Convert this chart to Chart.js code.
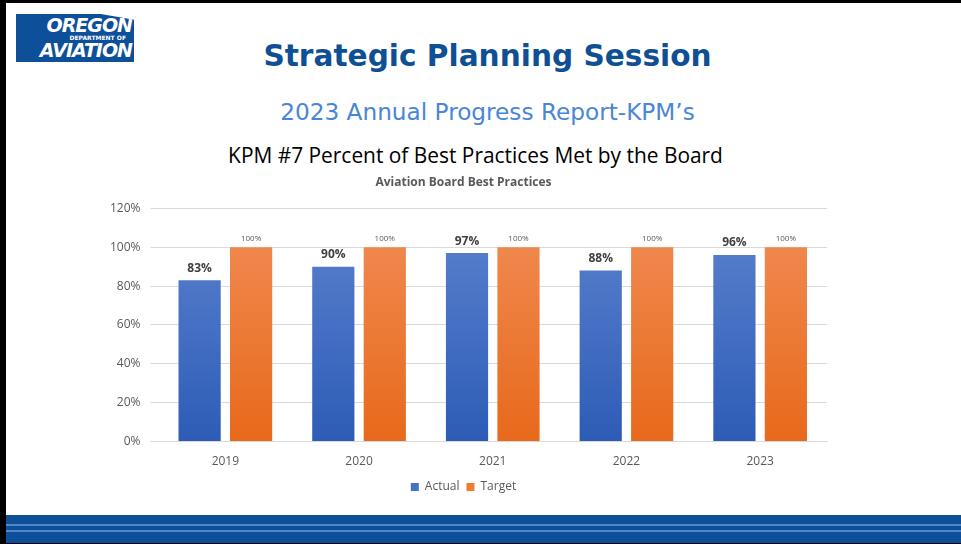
<!DOCTYPE html>
<html>
<head>
<meta charset="utf-8">
<script src="https://cdn.jsdelivr.net/npm/chart.js@4"></script>
<style>
	html, body { margin: 0; padding: 0; }
	body { width: 961px; height: 544px; position: relative; overflow: hidden; background: #fff; font-family: "Open Sans", sans-serif; }
	#frame { position: absolute; left: 0; top: 0; width: 961px; height: 544px; box-sizing: border-box; border-left: 6px solid #000; border-top: 3px solid #000; border-bottom: 1px solid #000; }
	#logo { position: absolute; left: 16px; top: 14px; width: 118px; height: 48px; background: #0e4f9a; clip-path: polygon(0 0, 72% 0, 100% 12%, 100% 100%, 0 100%); color: #fff; font-family: "DejaVu Sans", sans-serif; font-style: italic; font-weight: bold; text-align: right; }
	#logo .a { position: absolute; right: 2px; top: 2px; font-size: 19px; letter-spacing: -1px; line-height: 19px; }
	#logo .b { position: absolute; right: 8px; top: 21px; font-size: 6px; line-height: 6px; font-style: normal; }
	#logo .c { position: absolute; right: 2px; top: 27px; font-size: 19px; letter-spacing: -1px; line-height: 19px; }
	.t { position: absolute; white-space: nowrap; text-align: center; }
	#t1 { left: 0; width: 975px; top: 39px; font-family: "DejaVu Sans", sans-serif; font-weight: bold; font-size: 29.6px; color: #0f4f94; }
	#t2 { left: 0; width: 975px; top: 98px; font-family: "DejaVu Sans", sans-serif; font-size: 23.2px; color: #4a86d6; }
	#t3 { left: 0; width: 951px; top: 141px; font-family: "Open Sans", sans-serif; font-size: 20.9px; color: #000; }
	#chartBox { position: absolute; left: 100px; top: 171px; width: 742px; height: 332px; }
	#band { position: absolute; left: 6px; top: 515px; width: 955px; height: 28px; background: #0e4f9a; }
	#band .s1 { position: absolute; left: 0; right: 0; top: 9px; height: 2px; background: #4f86cc; }
	#band .s2 { position: absolute; left: 0; right: 0; top: 15px; height: 2px; background: #4f86cc; }
</style>
</head>
<body>
<div id="frame"></div>
<div id="logo"><span class="a">OREGON</span><span class="b">DEPARTMENT OF</span><span class="c">AVIATION</span></div>
<div class="t" id="t1">Strategic Planning Session</div>
<div class="t" id="t2">2023 Annual Progress Report-KPM’s</div>
<div class="t" id="t3">KPM #7 Percent of Best Practices Met by the Board</div>
<div id="chartBox"><canvas id="myChart"></canvas></div>
<div id="band"><div class="s1"></div><div class="s2"></div></div>
<script>
const years = ['2019', '2020', '2021', '2022', '2023'];
const actual = [83, 90, 97, 88, 96];
const target = [100, 100, 100, 100, 100];
const yTicks = [0, 20, 40, 60, 80, 100, 120];

// vertical gradient over the plot area, light at top, darker at bottom
function gradient(topColor, bottomColor) {
	return function (context) {
		const area = context.chart.chartArea;
		if (!area) return bottomColor;
		const g = context.chart.ctx.createLinearGradient(0, area.top, 0, area.bottom);
		g.addColorStop(0, topColor);
		g.addColorStop(1, bottomColor);
		return g;
	};
}

// value labels above the bars
const barLabels = {
	id: 'barLabels',
	afterDatasetsDraw(chart) {
		const ctx = chart.ctx;
		ctx.save();
		ctx.textAlign = 'center';
		ctx.textBaseline = 'bottom';
		chart.data.datasets.forEach((ds, i) => {
			const meta = chart.getDatasetMeta(i);
			meta.data.forEach((bar, j) => {
				if (i === 0) {
					ctx.font = 'bold 12px "Open Sans"';
					ctx.fillStyle = '#404040';
					ctx.fillText(ds.data[j] + '%', bar.x, bar.y - 6);
				} else {
					ctx.font = '8px "Open Sans"';
					ctx.fillStyle = '#595959';
					ctx.fillText(ds.data[j] + '%', bar.x, bar.y - 5);
				}
			});
		});
		ctx.restore();
	}
};

new Chart(document.getElementById('myChart'), {
	type: 'bar',
	data: {
		labels: years,
		datasets: [{
			label: 'Actual',
			data: actual,
			backgroundColor: gradient('#5d83cf', '#2d5cb6'),
			borderWidth: 0
		}, {
			label: 'Target',
			data: target,
			backgroundColor: gradient('#f18d57', '#e8691b'),
			borderWidth: 0
		}]
	},
	options: {
		responsive: true,
		maintainAspectRatio: false,
		animation: false,
		categoryPercentage: 0.77,
		barPercentage: 0.82,
		layout: { padding: { left: 0, right: 15, top: 0, bottom: 0 } },
		plugins: {
			title: {
				display: true,
				text: 'Aviation Board Best Practices',
				color: '#595959',
				font: { family: 'Open Sans', size: 12, weight: 'bold' },
				padding: { top: 4, bottom: 19 }
			},
			legend: {
				position: 'bottom',
				labels: {
					boxWidth: 8,
					boxHeight: 8,
					padding: 7,
					color: '#595959',
					font: { family: 'Open Sans', size: 12 },
					generateLabels: function (chart) {
						const fills = ['#4472c4', '#ed7d31'];
						return chart.data.datasets.map((ds, i) => ({
							text: ds.label,
							fillStyle: fills[i],
							strokeStyle: fills[i],
							lineWidth: 0,
							datasetIndex: i,
							fontColor: '#595959'
						}));
					}
				}
			},
			tooltip: { enabled: false }
		},
		scales: {
			x: {
				grid: { display: false },
				border: { color: '#d9d9d9' },
				ticks: { color: '#595959', font: { family: 'Open Sans', size: 12 }, padding: 5 }
			},
			y: {
				min: 0,
				max: 120,
				afterBuildTicks: function (axis) {
					axis.ticks = yTicks.map(v => ({ value: v }));
				},
				grid: { color: '#d9d9d9' },
				border: { display: false },
				ticks: {
					color: '#595959',
					font: { family: 'Open Sans', size: 12 },
					padding: 10,
					callback: function (value) { return value + '%'; }
				}
			}
		}
	},
	plugins: [barLabels]
});
</script>
</body>
</html>
